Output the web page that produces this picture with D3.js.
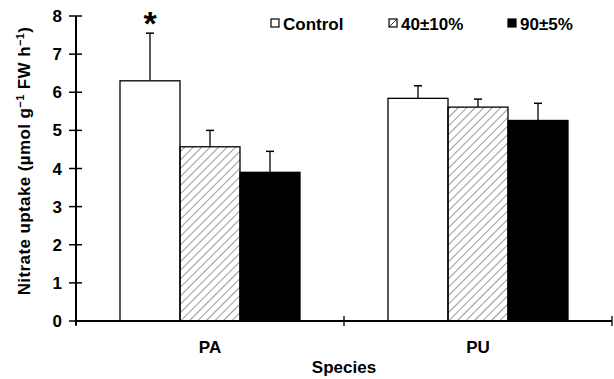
<!DOCTYPE html>
<html>
<head>
<meta charset="utf-8">
<script src="https://cdn.jsdelivr.net/npm/d3@7"></script>
<style>
  body { margin: 0; background: #fff; }
  text { font-family: Arial, "Liberation Sans", sans-serif; font-weight: bold; fill: #000; }
</style>
</head>
<body>
<div id="chart"></div>
<script>
const species = ["PA", "PU"];
const treatments = ["Control", "40±10%", "90±5%"];
const meanValues = {
    "PA": [6.30, 4.57, 3.90],
    "PU": [5.84, 5.61, 5.26]
};
const errorTops = {
    "PA": [7.55, 5.00, 4.45],
    "PU": [6.17, 5.82, 5.71]
};
const yTicks = [0, 1, 2, 3, 4, 5, 6, 7, 8];
const significant = [{species: "PA", treatment: "Control", label: "*"}];

const width = 614, height = 379;
const margin = {top: 16, left: 76, bottom: 58, right: 2};
const clipWidth = width - margin.left - margin.right;
const clipHeight = height - margin.top - margin.bottom;

const svg = d3.select("#chart").append("svg")
    .attr("width", width)
    .attr("height", height);

const defs = svg.append("defs");
defs.append("pattern")
    .attr("id", "hatch")
    .attr("patternUnits", "userSpaceOnUse")
    .attr("width", 6)
    .attr("height", 6)
    .attr("patternTransform", "rotate(45)")
    .append("line")
    .attr("x1", 0).attr("y1", 0)
    .attr("x2", 0).attr("y2", 6)
    .attr("stroke", "#000")
    .attr("stroke-width", 0.8);

const fills = ["#fff", "url(#hatch)", "#000"];

const g = svg.append("g")
    .attr("transform", "translate(" + margin.left + "," + margin.top + ")");

let xScale = d3.scaleBand()
    .domain(species)
    .range([0, clipWidth]);

let subScale = d3.scaleBand()
    .domain(treatments)
    .range([0, 180])
    .padding(0);

let yScale = d3.scaleLinear()
    .domain([0, 8])
    .range([clipHeight, 0]);

// bars
species.forEach(function (s) {
    const off = xScale(s) + (xScale.bandwidth() - 180) / 2;
    const grp = g.append("g").attr("transform", "translate(" + off + ",0)");
    treatments.forEach(function (t, i) {
        const x = subScale(t);
        const w = subScale.bandwidth();
        const cx = x + w / 2;
        // error bar
        grp.append("line")
            .attr("x1", cx).attr("x2", cx)
            .attr("y1", yScale(meanValues[s][i]))
            .attr("y2", yScale(errorTops[s][i]))
            .attr("stroke", "#000").attr("stroke-width", 1.3);
        grp.append("line")
            .attr("x1", cx - 4).attr("x2", cx + 4)
            .attr("y1", yScale(errorTops[s][i]))
            .attr("y2", yScale(errorTops[s][i]))
            .attr("stroke", "#000").attr("stroke-width", 1.5);
        grp.append("rect")
            .attr("x", x)
            .attr("y", yScale(meanValues[s][i]))
            .attr("width", w)
            .attr("height", clipHeight - yScale(meanValues[s][i]))
            .attr("fill", fills[i])
            .attr("stroke", "#000")
            .attr("stroke-width", 1.3);
    });
    significant.filter(d => d.species === s).forEach(function (d) {
        const i = treatments.indexOf(d.treatment);
        grp.append("text")
            .attr("x", subScale(d.treatment) + subScale.bandwidth() / 2)
            .attr("y", yScale(errorTops[s][i]) + 2)
            .attr("text-anchor", "middle")
            .attr("font-size", 34)
            .text(d.label);
    });
});

// y axis
let yAxis = g.append("g")
    .attr("class", "axis_y");
yAxis.append("line")
    .attr("x1", 0).attr("x2", 0)
    .attr("y1", yScale(8)).attr("y2", yScale(0) + 4)
    .attr("stroke", "#000").attr("stroke-width", 2);
yTicks.forEach(function (v) {
    yAxis.append("line")
        .attr("x1", -7).attr("x2", 6)
        .attr("y1", yScale(v)).attr("y2", yScale(v))
        .attr("stroke", "#000").attr("stroke-width", 1.5);
    yAxis.append("text")
        .attr("x", -14)
        .attr("y", yScale(v))
        .attr("dy", "0.36em")
        .attr("text-anchor", "end")
        .attr("font-size", 17)
        .text(v);
});

// x axis
let xAxis = g.append("g")
    .attr("class", "axis_x")
    .attr("transform", "translate(0," + clipHeight + ")");
xAxis.append("line")
    .attr("x1", 0).attr("x2", clipWidth)
    .attr("y1", 0).attr("y2", 0)
    .attr("stroke", "#000").attr("stroke-width", 2);
[0, xScale.bandwidth(), clipWidth].forEach(function (x) {
    xAxis.append("line")
        .attr("x1", x).attr("x2", x)
        .attr("y1", -5).attr("y2", 5)
        .attr("stroke", "#000").attr("stroke-width", 1.3);
});
species.forEach(function (s) {
    xAxis.append("text")
        .attr("x", xScale(s) + xScale.bandwidth() / 2)
        .attr("y", 32)
        .attr("text-anchor", "middle")
        .attr("font-size", 17)
        .text(s);
});

svg.append("text")
    .attr("x", 344)
    .attr("y", 373)
    .attr("text-anchor", "middle")
    .attr("font-size", 17)
    .text("Species");

const yLabel = svg.append("text")
    .attr("transform", "translate(30," + 161 + ") rotate(-90)")
    .attr("text-anchor", "middle")
    .attr("font-size", 17)
    .attr("letter-spacing", 0.4);
yLabel.append("tspan").text("Nitrate uptake (µmol g");
yLabel.append("tspan").attr("font-size", 11).attr("dy", -6).text("\u22121");
yLabel.append("tspan").attr("dy", 6).text(" FW h");
yLabel.append("tspan").attr("font-size", 11).attr("dy", -6).text("\u22121");
yLabel.append("tspan").attr("dy", 6).text(")");

// legend
const legendX = [271, 389, 508];
const legend = svg.append("g").attr("class", "legend");
treatments.forEach(function (t, i) {
    legend.append("rect")
        .attr("x", legendX[i]).attr("y", 19)
        .attr("width", 8).attr("height", 8)
        .attr("fill", i === 1 ? "#fff" : fills[i])
        .attr("stroke", "#000").attr("stroke-width", 1.2);
    if (i === 1) {
        legend.append("line")
            .attr("x1", legendX[i]).attr("y1", 27)
            .attr("x2", legendX[i] + 8).attr("y2", 19)
            .attr("stroke", "#000").attr("stroke-width", 0.8);
    }
    legend.append("text")
        .attr("x", legendX[i] + 12)
        .attr("y", 30)
        .attr("font-size", 17)
        .text(t);
});
</script>
</body>
</html>
